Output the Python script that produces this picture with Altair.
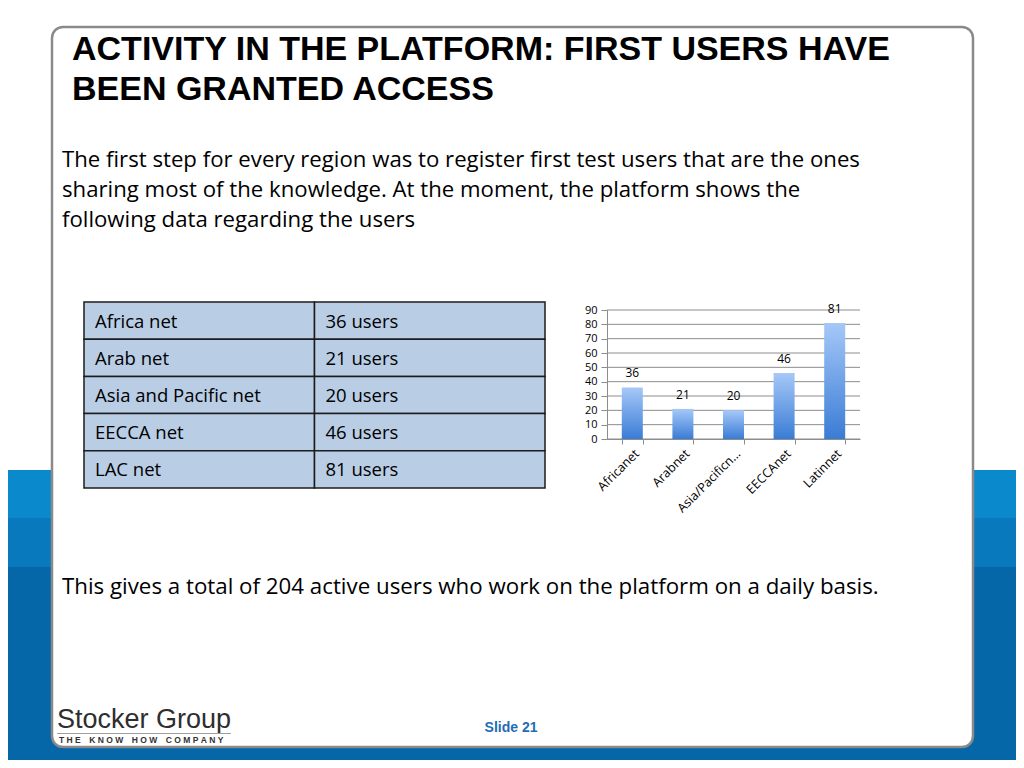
import altair as alt
import pandas as pd

# ---------------- data ----------------
categories = ["Africanet", "Arabnet", "Asia/Pacificnet", "EECCAnet", "Latinnet"]
users = [36, 21, 20, 46, 81]
table_names = ["Africa net", "Arab net", "Asia and Pacific net", "EECCA net", "LAC net"]
table_values = ["36 users", "21 users", "20 users", "46 users", "81 users"]
y_ticks = [0, 10, 20, 30, 40, 50, 60, 70, 80, 90]
title_lines = ["ACTIVITY IN THE PLATFORM: FIRST USERS HAVE", "BEEN GRANTED ACCESS"]
intro_lines = [
    "The first step for every region was to register first test users that are the ones",
    "sharing most of the knowledge. At the moment, the platform shows the",
    "following data regarding the users",
]
summary_text = "This gives a total of 204 active users who work on the platform on a daily basis."
logo_name = "Stocker Group"
logo_words = ["THE", "KNOW", "HOW", "COMPANY"]
slide_label = "Slide 21"

# ---------------- layout (page pixels) ----------------
PAGE = 8
PLOT_X, PLOT_Y = 607, 310
PLOT_W, PLOT_H = 253, 129


def X(px):
    return px - PLOT_X


def Y(py):
    return py - PLOT_Y


BODY_FONT = "Open Sans"
TITLE_FONT = "'Liberation Sans', Arial, sans-serif"
SANS = "'Liberation Sans', Arial, sans-serif"
NB = "\u00a0"
EN = "\u2002"
one = pd.DataFrame({"k": [0]})


def rect(x0, x1, y0, y1, **kw):
    return alt.Chart(one).mark_rect(**kw).encode(
        x=alt.value(X(x0)), x2=alt.value(X(x1)), y=alt.value(Y(y0)), y2=alt.value(Y(y1))
    )


def text(s, x, y, **kw):
    return alt.Chart(pd.DataFrame({"t": [s]})).mark_text(**kw).encode(
        x=alt.value(X(x)), y=alt.value(Y(y)), text="t:N"
    )


# background stripes and slide frame
stripe1 = rect(0, 1024, 470, 518, color="#0a8acd")
stripe2 = rect(0, 1024, 518, 567, color="#0879bc")
stripe3 = rect(0, 1024, 567, 768, color="#0567a7")
frame = rect(52, 973, 27, 747, fill="white", stroke="#8a8a8a", strokeWidth=2.5, cornerRadius=11)

title = text("\n".join(title_lines), 72, 60, align="left", baseline="alphabetic",
             font=TITLE_FONT, fontSize=34, fontWeight="bold", color="black",
             lineBreak="\n", lineHeight=40)
intro = text("\n".join(intro_lines), 62, 167, align="left", baseline="alphabetic",
             font=BODY_FONT, fontSize=22.2, color="black", lineBreak="\n", lineHeight=30)
summary = text(summary_text, 62, 594, align="left", baseline="alphabetic",
               font=BODY_FONT, fontSize=22.3, color="black")
logo = text(logo_name, 57, 728, align="left", baseline="alphabetic", font=SANS,
            fontSize=27, color="#2e2e2e")
logo_line = rect(57, 231, 733, 734, color="#a0a0a0")
tagline_text = (EN * 2).join(NB.join(w) for w in logo_words)
tagline = text(tagline_text, 59, 743, align="left", baseline="alphabetic", font=SANS,
               fontSize=8.5, fontWeight="bold", color="#333333")
slide_no = text(slide_label, 511, 732, align="center", baseline="alphabetic", font=SANS,
                fontSize=14, fontWeight="bold", color="#1f6db4")

# ---------------- table ----------------
rows = []
for n, v in zip(table_names, table_values):
    rows.append({"net": n, "col": "name", "label": n})
    rows.append({"net": n, "col": "value", "label": v})
tdf = pd.DataFrame(rows)

tscale_x = alt.Scale(domain=["name", "value"], range=[X(84), X(545)],
                     paddingInner=0, paddingOuter=0)
ty = alt.Y("net:N", scale=alt.Scale(domain=table_names, range=[Y(302), Y(488)],
                                     paddingInner=0, paddingOuter=0), axis=None)
table_cells = alt.Chart(tdf).mark_rect(fill="#b9cde5", stroke="#1c1c1c", strokeWidth=1.5).encode(
    x=alt.X("col:N", scale=tscale_x, axis=None), y=ty)
table_text = alt.Chart(tdf).mark_text(align="left", baseline="middle", dx=11, dy=1,
                                      font=BODY_FONT, fontSize=18.5, color="black").encode(
    x=alt.X("col:N", bandPosition=0, scale=tscale_x, axis=None),
    y=ty, text="label:N")
table = alt.layer(table_cells, table_text)

# ---------------- bar chart ----------------
bdf = pd.DataFrame({"net": categories, "users": users})
gdf = pd.DataFrame({"tick": y_ticks})
gray = "#8c8c8c"

x_axis = alt.Axis(labelAngle=-45, labelFont=BODY_FONT, labelFontSize=12.5,
                  labelColor="black", domainColor=gray, tickColor=gray,
                  tickBand="extent", tickSize=5, labelPadding=3, zindex=1,
                  labelOverlap=False, title=None,
                  labelExpr="length(datum.label) > 14 ? substring(datum.label, 0, 13) + '…' : datum.label")
y_axis = alt.Axis(values=y_ticks, grid=False, labelFont=BODY_FONT,
                  labelFontSize=11, labelColor="black", domainColor=gray,
                  tickColor=gray, tickSize=6, labelPadding=4, labelOverlap=False,
                  labelFlush=False, labelBound=False, zindex=1, title=None)
x_scale = alt.Scale(paddingInner=0.585, paddingOuter=0.2925)
y_scale = alt.Scale(domain=[0, 90], nice=False)

xenc = alt.X("net:N", sort=categories, title=None, scale=x_scale, axis=x_axis)
yenc = alt.Y("users:Q", title=None, scale=y_scale, axis=y_axis)

grid = alt.Chart(gdf).mark_rule(color=gray, strokeWidth=1).encode(
    y=alt.Y("tick:Q", title=None, scale=y_scale, axis=y_axis))
bars = alt.Chart(bdf).mark_bar(
    color=alt.Gradient(gradient="linear", x1=0, x2=0, y1=0, y2=1,
                       stops=[alt.GradientStop(color="#a6c8f8", offset=0),
                              alt.GradientStop(color="#3a7cd5", offset=1)])
).encode(x=xenc, y=yenc)
bar_labels = alt.Chart(bdf).mark_text(dy=-10, baseline="alphabetic", font=BODY_FONT,
                                      fontSize=12, color="black").encode(
    x=xenc, y=yenc, text="users:Q")
bar_chart = alt.layer(grid, bars, bar_labels)

chart = alt.layer(
    stripe1, stripe2, stripe3, frame, title, intro, summary, logo, logo_line, tagline, slide_no,
    table, bar_chart
).resolve_scale(x="independent", y="independent").properties(
    width=PLOT_W, height=PLOT_H,
    autosize=alt.AutoSizeParams(type="none"),
    padding={"left": PLOT_X - PAGE, "top": PLOT_Y - PAGE,
             "right": 1024 - PAGE - (PLOT_X + PLOT_W),
             "bottom": 768 - PAGE - (PLOT_Y + PLOT_H)},
    background="white",
).configure_view(stroke=None)

chart.save("out.html", embed_options={"renderer": "svg", "actions": False})
